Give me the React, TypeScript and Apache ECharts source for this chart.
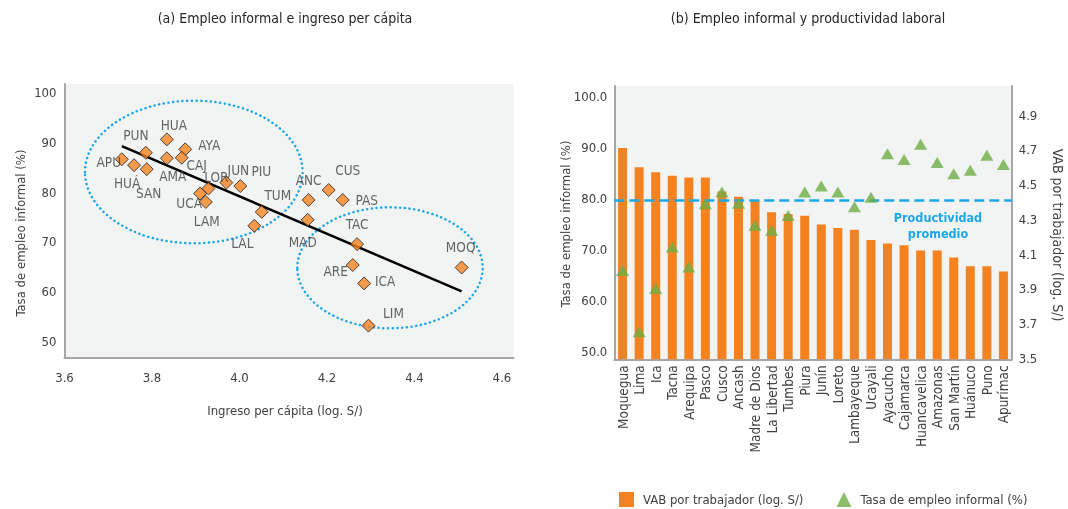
import React, { useEffect, useRef } from "react";
import * as echarts from "echarts";

// ---------- Data: panel (a) ----------
const codes = ["APU","HUÁ","PUN","SAN","HUA","AMA","AYA","CAJ","JUN","PIU","LOR","UCA","LAM","TUM","LAL","ANC","MAD","CUS","PAS","TAC","ARE","ICA","LIM","MOQ"];
const incomeLog = [3.731,3.759,3.786,3.788,3.834,3.834,3.876,3.868,3.970,4.002,3.929,3.910,3.923,4.051,4.034,4.158,4.156,4.204,4.236,4.269,4.259,4.285,4.295,4.508];
const informalA = [86.6,85.4,87.9,84.6,90.6,86.8,88.6,86.9,81.9,81.2,80.7,79.7,78.0,76.0,73.2,78.4,74.4,80.4,78.4,69.5,65.3,61.6,53.1,64.8];
const xTicksA = [3.6, 3.8, 4.0, 4.2, 4.4, 4.6];
const yTicksA = [50, 60, 70, 80, 90, 100];

// ---------- Data: panel (b) ----------
const regions = ["Moquegua","Lima","Ica","Tacna","Arequipa","Pasco","Cusco","Ancash","Madre de Dios","La Libertad","Tumbes","Piura","Junín","Loreto","Lambayeque","Ucayali","Ayacucho","Cajamarca","Huancavelica","Amazonas","San Martín","Huánuco","Puno","Apurímac"];
const vab = [4.71,4.60,4.57,4.55,4.54,4.54,4.46,4.43,4.41,4.34,4.33,4.32,4.27,4.25,4.24,4.18,4.16,4.15,4.12,4.12,4.08,4.03,4.03,4.00];
const informalB = [65.9,53.9,62.4,70.5,66.6,79.0,81.3,79.1,74.8,73.8,76.7,81.3,82.5,81.3,78.4,80.3,88.8,87.7,90.7,87.1,84.9,85.6,88.5,86.7];
const avgProductivity = 4.41;
const yTicksBLeft = [50, 60, 70, 80, 90, 100];
const yTicksBRight = [3.5, 3.7, 3.9, 4.1, 4.3, 4.5, 4.7, 4.9];

// label offsets (layout) for panel (a)
const labelOffsets: Record<string, [number, number]> = {
  APU: [-13, 3], "HUÁ": [-7, 18], PUN: [-10, -18], SAN: [2, 24], HUA: [7, -14],
  AMA: [6, 18], AYA: [24, -4], CAJ: [15, 7], JUN: [12, -13], PIU: [21, -15],
  LOR: [8, -12], UCA: [-11, 9], LAM: [1, 19], TUM: [16, -17], LAL: [-12, 17],
  ANC: [0, -20], MAD: [-5, 22], CUS: [19, -20], PAS: [24, 0], TAC: [0, -20],
  ARE: [-17, 6], ICA: [21, -2], LIM: [25, -13], MOQ: [-1, -21],
};

const FONT = "'Liberation Sans Narrow', 'DejaVu Sans Condensed', 'Roboto Condensed', 'Liberation Sans', sans-serif";
const TXT = "#404040";
const AXIS = "#a6a6a6";
const BG = "#f2f4f4";
const ORANGE = "#f58220";
const GREEN = "#6fac46";
const BLUE = "#1aa7e8";

function regression(xs: number[], ys: number[]) {
  const n = xs.length;
  const mx = xs.reduce((a, b) => a + b, 0) / n;
  const my = ys.reduce((a, b) => a + b, 0) / n;
  let sxy = 0, sxx = 0;
  for (let i = 0; i < n; i++) {
    sxy += (xs[i] - mx) * (ys[i] - my);
    sxx += (xs[i] - mx) * (xs[i] - mx);
  }
  const b = sxy / sxx;
  const a = my - b * mx;
  const x0 = Math.min(...xs), x1 = Math.max(...xs);
  return [[x0, a + b * x0], [x1, a + b * x1]];
}

export default function App() {
  const ref = useRef<HTMLDivElement>(null);
  useEffect(() => {
    if (!ref.current) return;
    const chart = echarts.init(ref.current, null, { renderer: "svg" });
    const axisLine = { show: true, onZero: false, lineStyle: { color: AXIS, width: 2 } };
    const lbl = { color: TXT, fontSize: 13, fontFamily: FONT };
    const trend = regression(incomeLog, informalA);

    chart.setOption({
      animation: false,
      textStyle: { fontFamily: FONT },
      grid: [
        { left: 64.5, top: 84, width: 449, height: 274, show: true, backgroundColor: BG, borderWidth: 0, containLabel: false },
        { left: 614.3, top: 86, width: 397.4, height: 273.3, show: true, backgroundColor: BG, borderWidth: 0, containLabel: false },
      ],
      xAxis: [
        {
          gridIndex: 0, type: "value", min: 3.6, max: 4.6265,
          axisLine, axisTick: { show: false }, splitLine: { show: false },
          axisLabel: { ...lbl, customValues: xTicksA, margin: 13, formatter: (v: number) => v.toFixed(1) },
        },
        {
          gridIndex: 1, type: "category", data: regions,
          axisLine, axisTick: { show: false }, splitLine: { show: false },
          axisLabel: { color: TXT, fontSize: 13.5, fontFamily: FONT, rotate: 90, interval: 0, margin: 6 },
        },
      ],
      yAxis: [
        {
          gridIndex: 0, type: "value", min: 46.58, max: 101.75,
          axisLine, axisTick: { show: false }, splitLine: { show: false },
          axisLabel: { ...lbl, customValues: yTicksA, margin: 8 },
        },
        {
          gridIndex: 1, type: "value", min: 48.5, max: 102.1,
          axisLine, axisTick: { show: false }, splitLine: { show: false },
          axisLabel: { ...lbl, customValues: yTicksBLeft, margin: 7, formatter: (v: number) => v.toFixed(1) },
        },
        {
          gridIndex: 1, type: "value", position: "right", min: 3.494, max: 5.067,
          axisLine, axisTick: { show: false }, splitLine: { show: false },
          axisLabel: { ...lbl, customValues: yTicksBRight, margin: 7, formatter: (v: number) => v.toFixed(1) },
        },
      ],
      legend: {
        left: 619, top: 492, padding: 0, itemWidth: 15, itemHeight: 15, itemGap: 33,
        textStyle: { color: TXT, fontSize: 13, fontFamily: FONT, padding: [0, 0, 0, 4] },
        data: [
          { name: "VAB por trabajador (log. S/)", icon: "rect" },
          { name: "Tasa de empleo informal (%)", icon: "triangle" },
        ],
      },
      series: [
        {
          name: "trend", type: "line", xAxisIndex: 0, yAxisIndex: 0,
          data: trend, symbol: "none", lineStyle: { color: "#000", width: 2.5 }, z: 3,
        },
        {
          name: "ingreso", type: "scatter", xAxisIndex: 0, yAxisIndex: 0,
          symbol: "diamond", symbolSize: 13, z: 4,
          itemStyle: { color: ORANGE, borderColor: "#222", borderWidth: 1 },
          label: { show: true, position: "inside", color: TXT, fontSize: 13.5, fontFamily: FONT, formatter: (p: any) => p.name },
          data: codes.map((c, i) => ({
            name: c, value: [incomeLog[i], informalA[i]],
            label: { offset: labelOffsets[c] },
          })),
        },
        {
          name: "VAB por trabajador (log. S/)", type: "bar", xAxisIndex: 1, yAxisIndex: 2,
          data: vab, barWidth: 9, itemStyle: { color: ORANGE },
          markLine: {
            silent: true, symbol: "none", label: { show: false },
            lineStyle: { color: BLUE, width: 2.5, type: [10, 5] },
            data: [{ yAxis: avgProductivity }],
          },
        },
        {
          name: "Tasa de empleo informal (%)", type: "scatter", xAxisIndex: 1, yAxisIndex: 1,
          symbol: "triangle", symbolSize: [13, 11], z: 5,
          itemStyle: { color: GREEN },
          data: informalB,
        },
      ],
      graphic: [
        { type: "ellipse", z: 1, shape: { cx: 193.8, cy: 172, rx: 108.8, ry: 71.3 },
          style: { fill: "none", stroke: BLUE, lineWidth: 2.5, lineDash: [0.1, 4.6], lineCap: "round" } },
        { type: "ellipse", z: 1, shape: { cx: 390, cy: 267.8, rx: 92.7, ry: 60.5 },
          style: { fill: "none", stroke: BLUE, lineWidth: 2.5, lineDash: [0.1, 4.6], lineCap: "round" } },
        { type: "text", x: 285, y: 18, style: { text: "(a) Empleo informal e ingreso per cápita", fill: "#262626", font: `14px ${FONT}`, align: "center", verticalAlign: "middle" } },
        { type: "text", x: 808, y: 18, style: { text: "(b) Empleo informal y productividad laboral", fill: "#262626", font: `14px ${FONT}`, align: "center", verticalAlign: "middle" } },
        { type: "text", x: 20, y: 233, rotation: Math.PI / 2, style: { text: "Tasa de empleo informal (%)", fill: TXT, font: `13px ${FONT}`, align: "center", verticalAlign: "middle" } },
        { type: "text", x: 285, y: 410, style: { text: "Ingreso per cápita (log. S/)", fill: TXT, font: `13px ${FONT}`, align: "center", verticalAlign: "middle" } },
        { type: "text", x: 565, y: 224, rotation: Math.PI / 2, style: { text: "Tasa de empleo informal (%)", fill: TXT, font: `13px ${FONT}`, align: "center", verticalAlign: "middle" } },
        { type: "text", x: 1058, y: 235, rotation: -Math.PI / 2, style: { text: "VAB por trabajador (log. S/)", fill: TXT, font: `14px ${FONT}`, align: "center", verticalAlign: "middle" } },
        { type: "text", x: 938, y: 225, z: 10, style: { text: "Productividad\npromedio", fill: BLUE, font: `bold 12.5px ${FONT}`, align: "center", verticalAlign: "middle", lineHeight: 16 } },
      ],
    });
    return () => chart.dispose();
  }, []);
  return <div ref={ref} style={{ position: "fixed", left: 0, top: 0, width: 1068, height: 509 }} />;
}
